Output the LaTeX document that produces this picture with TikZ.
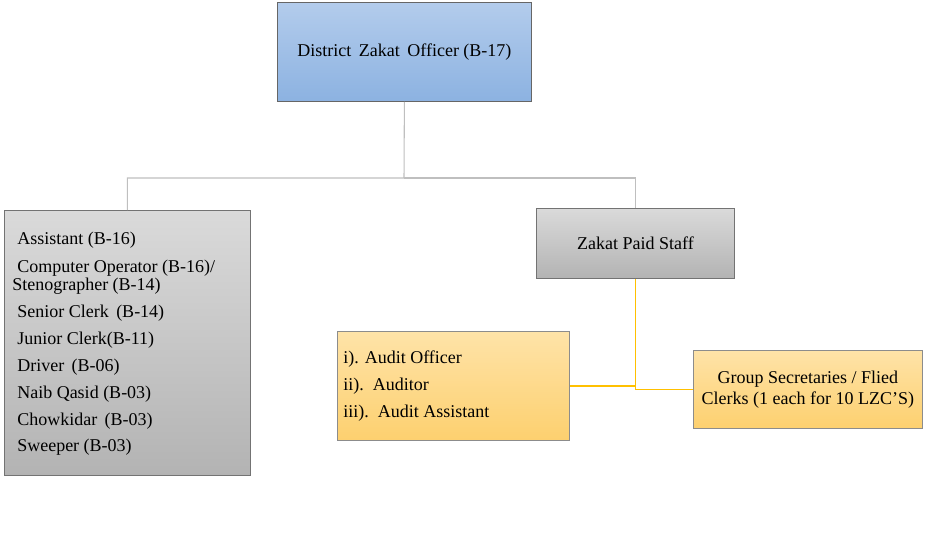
\documentclass[tikz,border=0pt]{standalone}
\usepackage{fontspec}
\setmainfont{Liberation Serif}
\usetikzlibrary{positioning}

\definecolor{bluetop}{HTML}{B3CCEC}
\definecolor{bluebot}{HTML}{8CB2E1}
\definecolor{graytop}{HTML}{DADADA}
\definecolor{graybot}{HTML}{B3B3B3}
\definecolor{goldtop}{HTML}{FEE3A8}
\definecolor{goldbot}{HTML}{FDD06F}
\definecolor{wireyellow}{RGB}{255,192,0}
\definecolor{linkgray}{HTML}{BFBFBF}

\tikzset{
  orgbox/.style={draw=black!55, line width=0.6pt, rectangle, inner sep=0pt, anchor=north west},
  bluebox/.style={orgbox, top color=bluetop, bottom color=bluebot, draw=black!60},
  graybox/.style={orgbox, top color=graytop, bottom color=graybot},
  goldbox/.style={orgbox, top color=goldtop, bottom color=goldbot, draw=black!45},
  link/.style={draw=linkgray, line width=0.8pt},
  goldlink/.style={draw=wireyellow, line width=1.3pt},
  item/.style={anchor=base west, inner sep=0pt}
}

\begin{document}
\begin{tikzpicture}[x=0.75pt, y=-0.75pt, font=\fontsize{13.5}{15}\selectfont]
    \useasboundingbox (0,0) rectangle (930,544);

    % BOXES
    \node[bluebox, minimum width=190.5pt, minimum height=74.25pt] (dzo) at (277,2) {};
    \node at (dzo.center) {District\, Zakat\, Officer (B-17)};

    \node[graybox, minimum width=184.5pt, minimum height=198.75pt] (clerks) at (4,210) {};
    \node[graybox, minimum width=148.5pt, minimum height=52.5pt] (paid) at (536,208) {Zakat Paid Staff};

    \node[goldbox, minimum width=174pt, minimum height=81.75pt] (audit) at (337,331) {};
    \node[goldbox, minimum width=171.75pt, minimum height=58.5pt, align=center,
          font=\fontsize{13.5}{15.75}\selectfont] (group) at (693,350)
          {Group Secretaries / Flied\\Clerks (1 each for 10 LZC'S)};

    % LIST OF OFFICE STAFF
    \foreach \y/\x/\t [count=\i] in {244/17/{Assistant (B-16)},
                                     272/17/{Computer Operator (B-16)/},
                                     290/12/{Stenographer (B-14)},
                                     317/17/{Senior Clerk\, (B-14)},
                                     344/17/{Junior Clerk(B-11)},
                                     371/17/{Driver\, (B-06)},
                                     398/17/{Naib Qasid (B-03)},
                                     425/17/{Chowkidar\, (B-03)},
                                     451/17/{Sweeper (B-03)}}
        \node[item] (staff\i) at (\x,\y) {\t};

    \foreach \y/\t [count=\i] in {363/{i). Audit Officer},
                                  390/{ii).\, Auditor},
                                  417/{iii).\, Audit Assistant}}
        \node[item] (auditor\i) at (343,\y) {\t};

    % CONNECTORS
    \coordinate (bus) at (404,178);
    \draw[link] (dzo.south) -- (bus) -| (clerks.north);
    \draw[link] (bus) -| (paid.north);
    \draw[goldlink] (group.west) -| (paid.south);
    \draw[goldlink] (audit.east) -- (audit.east -| paid.south);
\end{tikzpicture}
\end{document}
